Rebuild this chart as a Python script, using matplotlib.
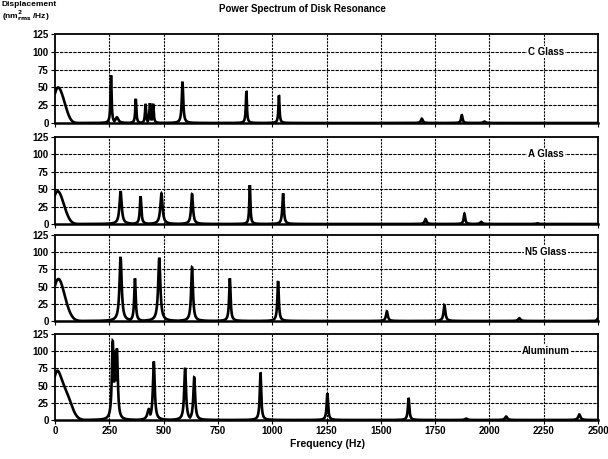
import numpy as np
import matplotlib
matplotlib.use("Agg")
import matplotlib.pyplot as plt

plt.rcParams['font.family'] = ['Liberation Sans', 'DejaVu Sans']

# Materials, top to bottom
materials = ["C Glass", "A Glass", "N5 Glass", "Aluminum"]

# Low-frequency hump (summed Gaussian components): centre Hz, height, sigma Hz
hump_freq = {
    "C Glass": [8, 38],
    "A Glass": [6, 35],
    "N5 Glass": [10, 40],
    "Aluminum": [5, 45],
}
hump_height = {
    "C Glass": [41, 22],
    "A Glass": [38, 18],
    "N5 Glass": [50, 20],
    "Aluminum": [55, 40],
}
hump_width = {
    "C Glass": [20, 20],
    "A Glass": [22, 22],
    "N5 Glass": [24, 25],
    "Aluminum": [20, 28],
}

# Resonance peaks (Lorentzian): centre Hz, height, half-width Hz
peak_freq = {
    "C Glass": [258, 285, 372, 417, 437, 452, 587, 881, 1031, 1689, 1873, 1977],
    "A Glass": [302, 394, 490, 631, 897, 1050, 1706, 1885, 1962, 2221],
    "N5 Glass": [302, 368, 480, 631, 805, 1027, 1528, 1793, 2138, 2500],
    "Aluminum": [266, 276, 285, 432, 455, 599, 641, 946, 1254, 1628, 1893, 2077, 2414],
}
peak_height = {
    "C Glass": [67, 8, 34, 27, 28, 27, 58, 45, 39, 6, 11, 2],
    "A Glass": [47, 40, 44, 43, 56, 44, 7, 15, 3, 1],
    "N5 Glass": [93, 62, 92, 78, 62, 58, 14, 23, 4, 4],
    "Aluminum": [115, 98, 104, 16, 85, 76, 62, 69, 39, 32, 2, 5, 8],
}
peak_width = {
    "C Glass": [3, 8, 3, 3, 3, 3, 4, 3, 3, 5, 4, 6],
    "A Glass": [6, 4, 6, 5, 3, 4, 5, 4, 6, 6],
    "N5 Glass": [6, 4, 6, 5, 4, 4, 5, 5, 6, 4],
    "Aluminum": [5, 5, 5, 8, 5, 5, 5, 4, 4, 4, 6, 6, 6],
}

freq_ticks = [0, 250, 500, 750, 1000, 1250, 1500, 1750, 2000, 2250, 2500]
disp_ticks = [0, 25, 50, 75, 100, 125]


def spectrum(name, f):
    hump = np.zeros_like(f)
    for c, h, s in zip(hump_freq[name], hump_height[name], hump_width[name]):
        hump += h * np.exp(-(f - c) ** 2 / (2 * s ** 2))
    y = hump
    for c, h, w in zip(peak_freq[name], peak_height[name], peak_width[name]):
        y = np.maximum(y, h / (1 + ((f - c) / w) ** 2))
    return y


f = np.linspace(0, 2500, 6001)

fig = plt.figure(figsize=(6.08, 4.59), dpi=100)
left, right = 55 / 608, 598 / 608
tops = [34, 137, 235, 334]
bottoms = [123, 224, 321, 420]
H = 459

for i, name in enumerate(materials):
    ax = fig.add_axes([left, 1 - bottoms[i] / H, right - left,
                       (bottoms[i] - tops[i]) / H])
    ax.set_xlim(0, 2500)
    ax.set_ylim(0, 125)
    for v in disp_ticks[1:-1]:
        ax.axhline(v, color='black', lw=0.8, ls=(0, (3, 1)), zorder=1)
    for v in freq_ticks[1:-1]:
        ax.axvline(v, color='black', lw=0.8, ls=(0, (2, 1)), zorder=1)
    ax.plot(f, spectrum(name, f), color='black', lw=1.9,
            solid_joinstyle='miter', zorder=3)
    ax.set_yticks(disp_ticks)
    ax.set_yticklabels([str(t) for t in disp_ticks], fontsize=7,
                       fontweight='bold')
    ax.set_xticks(freq_ticks)
    if i == len(materials) - 1:
        ax.set_xticklabels([str(t) for t in freq_ticks], fontsize=7,
                           fontweight='bold')
    else:
        ax.set_xticklabels([])
    ax.tick_params(direction='out', length=3, width=0.8, pad=1.5)
    for sp in ax.spines.values():
        sp.set_linewidth(1.3)
    ax.spines['bottom'].set_linewidth(1.8)
    ax.text(2260, 100, name, fontsize=7, fontweight='bold', ha='center',
            va='center', zorder=4,
            bbox=dict(boxstyle='square,pad=0.1', fc='white', ec='none'))

fig.text(302 / 608, 1 - 9 / H, "Power Spectrum of Disk Resonance",
         fontsize=7, fontweight='bold', ha='center', va='center')
fig.text(2 / 608, 1 - 4 / H, "Displacement", fontsize=6,
         fontweight='bold', ha='left', va='center')
fig.text(2 / 608, 1 - 16 / H,
         r"(nm$_{\mathbf{rms}}^{\mathbf{2}}$ /Hz)", fontsize=6,
         fontweight='bold', ha='left', va='center')
fig.text(327 / 608, 1 - 444 / H, "Frequency (Hz)", fontsize=7.5,
         fontweight='bold', ha='center', va='center')

fig.savefig("out.png", dpi=100)
